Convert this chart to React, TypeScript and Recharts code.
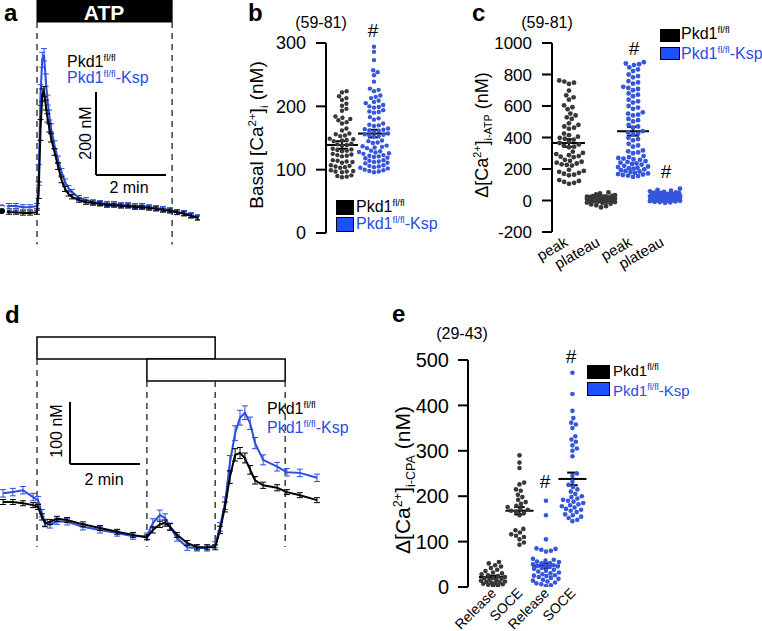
import React from 'react';
import {
  LineChart, Line, XAxis, YAxis, ReferenceArea, ReferenceLine, ErrorBar,
  ScatterChart, Scatter,
} from 'recharts';

const FONT = '"Liberation Sans", Arial, Helvetica, sans-serif';
const BLACK = '#000000';
const BLUE = '#2a4de0';
const DOT_BLACK = '#383838';
const DOT_BLUE = '#3657dc';
const LEG_BLUE = '#1f4fff';

// ---------- Panel a: ATP trace (time in min, [Ca2+]i in nM) ----------
const aTime = [-1.0, -0.8, -0.6, -0.4, -0.2, 0, 0.05, 0.1, 0.15, 0.2, 0.25, 0.3, 0.35, 0.4, 0.5, 0.6, 0.7, 0.8, 0.9, 1.0, 1.2, 1.4, 1.6, 1.8, 2.0, 2.2, 2.4, 2.6, 2.8, 3.0, 3.2, 3.4, 3.6, 3.8, 4.0, 4.2, 4.4, 4.6];
const aBlack = [145, 142, 142, 140, 140, 142, 195, 340, 424, 432, 400, 369, 345, 321, 287, 253, 220, 198, 186, 179, 171, 166, 164, 162, 159, 159, 157, 157, 154, 154, 152, 150, 147, 145, 142, 138, 133, 128];
const aBlackErr = [5, 5, 5, 5, 5, 5, 20, 25, 15, 12, 12, 10, 10, 10, 8, 8, 7, 6, 5, 5, 5, 5, 5, 5, 5, 5, 5, 5, 5, 5, 5, 5, 5, 5, 5, 5, 5, 5];
const aBlue = [154, 157, 157, 154, 154, 157, 232, 424, 509, 521, 460, 412, 376, 345, 304, 268, 239, 215, 200, 191, 176, 171, 166, 164, 162, 162, 159, 159, 157, 157, 154, 152, 150, 147, 142, 140, 135, 130];
const aBlueErr = [6, 6, 6, 6, 6, 6, 25, 25, 18, 15, 15, 12, 12, 10, 10, 9, 8, 7, 6, 6, 6, 6, 6, 6, 6, 6, 6, 6, 6, 6, 6, 6, 6, 6, 6, 6, 6, 6];
const ATP_ON = 0;
const ATP_OFF = 3.86;

// ---------- Panel d: CPA / Ca2+ re-addition trace ----------
const dTime = [-0.97, -0.69, -0.4, -0.11, 0.03, 0.14, 0.23, 0.37, 0.57, 0.86, 1.31, 1.8, 2.29, 2.74, 3.14, 3.31, 3.51, 3.66, 3.8, 4.0, 4.29, 4.57, 4.86, 5.09, 5.23, 5.37, 5.51, 5.66, 5.8, 5.94, 6.09, 6.23, 6.46, 6.86, 7.14, 7.51, 8.0];
const dBlack = [140, 140, 138, 135, 132, 116, 106, 108, 113, 111, 104, 98, 92, 87, 83, 95, 104, 106, 100, 87, 74, 67, 67, 67, 95, 132, 180, 216, 219, 211, 192, 175, 167, 163, 156, 151, 143];
const dBlackErr = [4, 4, 4, 4, 4, 5, 5, 4, 4, 4, 4, 4, 4, 4, 4, 5, 5, 5, 5, 4, 4, 4, 4, 4, 6, 8, 10, 10, 9, 8, 7, 6, 5, 5, 4, 4, 4];
const dBlue = [154, 156, 159, 148, 143, 122, 106, 103, 109, 108, 100, 95, 90, 85, 85, 106, 119, 114, 100, 82, 67, 66, 66, 71, 100, 138, 203, 251, 276, 284, 267, 235, 208, 197, 188, 187, 179];
const dBlueErr = [6, 6, 6, 6, 6, 6, 6, 5, 5, 5, 5, 5, 5, 5, 5, 7, 8, 7, 6, 5, 5, 5, 5, 5, 7, 10, 12, 12, 12, 11, 10, 9, 8, 7, 6, 6, 6];
const CPA_ON = 0;
const CPA_OFF = 5.09;
const CA_ON = 3.14;
const CA_OFF = 7.09;

// ---------- Panel b: basal [Ca2+]i ----------
const bBlack = [224, 222, 216, 213, 210, 204, 201, 196, 193, 184, 182, 180, 178, 175, 173, 165, 162, 157, 156, 154, 153, 149, 148, 147, 146, 145, 141, 140, 139, 138, 133, 132, 131, 130, 129, 125, 124, 123, 122, 121, 115, 114, 113, 112, 111, 107, 106, 105, 104, 103, 99, 98, 97, 97, 96, 91, 90, 89, 88];
const bBlue = [294, 286, 273, 257, 254, 249, 239, 228, 226, 224, 217, 215, 213, 209, 207, 205, 202, 200, 199, 198, 194, 192, 191, 190, 183, 181, 179, 173, 171, 170, 169, 165, 164, 163, 162, 161, 160, 157, 156, 155, 154, 153, 152, 146, 145, 143, 142, 138, 137, 136, 135, 134, 130, 129, 128, 127, 126, 125, 123, 122, 121, 120, 119, 118, 115, 114, 113, 112, 111, 110, 107, 106, 105, 104, 103, 102, 100, 99, 98, 97, 96];
const bMean = [139, 157];
const bSem = [6, 6];

// ---------- Panel c: ATP response ----------
const cCategories = ['peak', 'plateau', 'peak', 'plateau'];
const cBlackPeak = [762, 755, 748, 740, 698, 668, 655, 640, 604, 592, 580, 552, 540, 528, 518, 490, 480, 470, 462, 455, 425, 415, 405, 398, 392, 386, 372, 365, 356, 348, 342, 338, 310, 302, 295, 288, 282, 278, 275, 258, 252, 246, 240, 235, 230, 226, 222, 195, 188, 182, 176, 170, 164, 160, 130, 124, 118, 112, 106];
const cBlackPlateau = [52, 45, 38, 34, 30, 28, 26, 25, 24, 23, 22, 21, 20, 20, 19, 18, 17, 16, 16, 15, 14, 14, 13, 13, 12, 12, 11, 11, 10, 10, 9, 9, 8, 8, 7, 7, 6, 6, 5, 5, 4, 3, 2, 1, 0, 0, -1, -2, -4, -6, -8, -10, -13, -16, -20, -25, -30, -36, -44];
const cBluePeak = [878, 870, 865, 860, 845, 832, 822, 800, 790, 782, 758, 750, 742, 722, 715, 708, 700, 680, 672, 662, 640, 630, 622, 600, 590, 582, 560, 552, 545, 540, 518, 510, 502, 480, 470, 462, 440, 432, 425, 420, 398, 390, 382, 360, 350, 342, 318, 312, 305, 300, 282, 276, 270, 266, 262, 258, 250, 245, 240, 236, 232, 228, 220, 216, 212, 208, 205, 202, 198, 192, 188, 184, 180, 176, 172, 168, 165, 162, 158, 155, 150];
const cBluePlateau = [75, 68, 62, 58, 55, 52, 50, 48, 46, 44, 42, 40, 38, 37, 36, 35, 34, 33, 32, 31, 30, 29, 28, 27, 27, 26, 25, 25, 24, 24, 23, 23, 22, 22, 21, 21, 20, 20, 19, 19, 18, 18, 17, 17, 16, 16, 15, 15, 14, 14, 13, 13, 12, 12, 11, 11, 10, 10, 9, 9, 8, 8, 7, 7, 6, 6, 5, 5, 4, 3, 2, 1, 0, -1, -2, -4, -6, -8, -10, -12, -15];
const cMean = [365, 10, 440, 20];
const cSem = [24, 3, 28, 3];

// ---------- Panel e: CPA response ----------
const eCategories = ['Release', 'SOCE', 'Release', 'SOCE'];
const eBlackRelease = [55, 52, 48, 45, 42, 38, 35, 32, 30, 28, 26, 24, 22, 20, 19, 18, 16, 15, 14, 12, 11, 10, 9, 8, 7, 6, 5, 3, 2];
const eBlackSOCE = [290, 274, 262, 230, 226, 215, 212, 203, 198, 192, 187, 183, 179, 176, 172, 170, 168, 166, 163, 158, 128, 125, 120, 116, 113, 110, 105, 98, 93];
const eBlueRelease = [190, 158, 105, 85, 84, 82, 80, 78, 62, 60, 58, 56, 55, 53, 52, 50, 48, 47, 46, 45, 44, 42, 40, 38, 36, 34, 32, 30, 28, 26, 25, 24, 22, 20, 18, 16, 14, 12, 10, 8, 6, 4, 2];
const eBlueSOCE = [472, 425, 388, 372, 362, 358, 350, 332, 325, 320, 312, 305, 300, 288, 250, 245, 232, 225, 220, 215, 210, 205, 200, 198, 195, 192, 190, 188, 185, 182, 180, 178, 175, 172, 170, 168, 165, 160, 158, 155, 152, 148, 145];
const eMean = [22, 168, 47, 238];
const eSem = [3, 8, 5, 14];

// ---------- helpers ----------
// beeswarm layout (pixel offsets), limited to a maximum half-width
function swarm(values: number[], pxPerUnit: number, d: number, maxHalf: number): number[] {
  const idx = values.map((_, i) => i).sort((a, b) => values[a] - values[b]);
  const placed: { x: number; y: number }[] = [];
  const out = new Array(values.length).fill(0);
  for (const i of idx) {
    const y = values[i] * pxPerUnit;
    const near = placed.filter((p) => Math.abs(p.y - y) < d);
    const cands = [0];
    for (const p of near) {
      const dx = Math.sqrt(d * d - (p.y - y) * (p.y - y));
      cands.push(p.x + dx, p.x - dx);
    }
    const ok = cands.filter((c) => Math.abs(c) <= maxHalf).sort((a, b) => Math.abs(a) - Math.abs(b));
    let chosen: number | null = null;
    for (const c of ok) {
      if (near.every((p) => (p.x - c) * (p.x - c) + (p.y - y) * (p.y - y) >= d * d - 0.01)) {
        chosen = c;
        break;
      }
    }
    if (chosen === null) {
      let best = 0;
      let bestScore = -1;
      for (let k = 0; k <= 4 * maxHalf; k++) {
        const c = k % 2 === 0 ? k / 4 : -(k + 1) / 4;
        if (Math.abs(c) > maxHalf) continue;
        let m = Infinity;
        for (const p of near) m = Math.min(m, (p.x - c) * (p.x - c) + (p.y - y) * (p.y - y));
        if (m > bestScore + 0.5) {
          bestScore = m;
          best = c;
        }
      }
      chosen = best;
    }
    placed.push({ x: chosen, y });
    out[i] = chosen;
  }
  return out;
}

function group(values: number[], pos: number, pxPerUnit: number, d: number, maxHalf: number) {
  const dx = swarm(values, pxPerUnit, d, maxHalf);
  return values.map((v, i) => ({ x: pos, y: v, dx: dx[i] }));
}

const dotShape = (fill: string, r: number) => (props: any) => {
  const { cx, cy, payload } = props;
  if (cx == null || cy == null) return <g />;
  return <circle cx={cx + (payload?.dx || 0)} cy={cy} r={r} fill={fill} />;
};

function meanLines(means: number[], sems: number[], halfW: number, capW: number, key: string) {
  const out: any[] = [];
  means.forEach((m, i) => {
    const x = i + 1;
    const s = sems[i];
    const common = { stroke: BLACK, strokeWidth: 2, ifOverflow: 'visible' as const };
    out.push(<ReferenceLine key={`${key}m${i}`} segment={[{ x: x - halfW, y: m }, { x: x + halfW, y: m }]} {...common} />);
    out.push(<ReferenceLine key={`${key}v${i}`} segment={[{ x, y: m - s }, { x, y: m + s }]} {...common} />);
    out.push(<ReferenceLine key={`${key}t${i}`} segment={[{ x: x - capW, y: m + s }, { x: x + capW, y: m + s }]} {...common} />);
    out.push(<ReferenceLine key={`${key}b${i}`} segment={[{ x: x - capW, y: m - s }, { x: x + capW, y: m - s }]} {...common} />);
  });
  return out;
}

const catTick = (labels: string[], angle: number, dx: number, dy: number, size: number) => (props: any) => {
  const { x, y, payload } = props;
  const ax = x + dx;
  const ay = y + dy;
  return (
    <text x={ax} y={ay} transform={`rotate(${angle} ${ax} ${ay})`} textAnchor="end" fontSize={size} fontFamily={FONT} fill="#000">
      {labels[Math.round(payload.value) - 1]}
    </text>
  );
};

const Sup = ({ children }: any) => <span style={{ fontSize: '0.6em', position: 'relative', top: '-0.65em' }}>{children}</span>;
const Sub = ({ children }: any) => <span style={{ fontSize: '0.6em', position: 'relative', top: '0.4em' }}>{children}</span>;

function T({ x, y, size, children, anchor = 'start', color = '#000', bold = false }: any) {
  const tr = anchor === 'middle' ? 'translateX(-50%)' : anchor === 'end' ? 'translateX(-100%)' : undefined;
  return (
    <div style={{ position: 'absolute', left: x, top: y - 0.8465 * size, fontSize: size, lineHeight: 1, whiteSpace: 'nowrap', transform: tr, color, fontWeight: bold ? 'bold' : 'normal' }}>
      {children}
    </div>
  );
}

function VLabel({ cx, cy, size, children }: any) {
  return (
    <div style={{ position: 'absolute', left: cx, top: cy, fontSize: size, lineHeight: 1, whiteSpace: 'nowrap', transform: 'translate(-50%,-50%) rotate(-90deg)' }}>
      {children}
    </div>
  );
}

function Square({ x, y, w, h, fill }: any) {
  return <div style={{ position: 'absolute', left: x, top: y, width: w, height: h, background: fill, border: '1px solid #000', boxSizing: 'border-box' }} />;
}

const Pkd = () => <>Pkd1<Sup>fl/fl</Sup></>;
const PkdKsp = () => <>Pkd1<Sup>fl/fl</Sup>-Ksp</>;

const axisStyle = { stroke: '#000', strokeWidth: 2 };

function Box({ left, top, children }: any) {
  return <div style={{ position: 'absolute', left, top }}>{children}</div>;
}

// ---------- panels ----------
function PanelA() {
  const data = aTime.map((t, i) => ({ t, black: aBlack[i], blackErr: aBlackErr[i], blue: aBlue[i], blueErr: aBlueErr[i] }));
  const dash = { stroke: '#222', strokeWidth: 1.3, strokeDasharray: '6 5', ifOverflow: 'visible' as const };
  return (
    <Box left={0} top={0}>
      <LineChart width={200} height={245} data={data} margin={{ top: 0, right: 0, bottom: 0, left: 0 }}>
        <XAxis dataKey="t" type="number" domain={[-1.057, 4.657]} allowDataOverflow hide />
        <YAxis type="number" domain={[63, 653]} allowDataOverflow hide />
        <ReferenceArea x1={ATP_ON} x2={ATP_OFF} y1={600} y2={653} fill="#000" fillOpacity={1} stroke="#000" ifOverflow="visible" />
        <ReferenceLine segment={[{ x: ATP_ON, y: 600 }, { x: ATP_ON, y: 64 }]} {...dash} />
        <ReferenceLine segment={[{ x: ATP_OFF, y: 600 }, { x: ATP_OFF, y: 64 }]} {...dash} />
        <ReferenceLine segment={[{ x: 1.686, y: 431.6 }, { x: 1.686, y: 231.6 }]} stroke="#000" strokeWidth={2} ifOverflow="visible" />
        <ReferenceLine segment={[{ x: 1.686, y: 231.6 }, { x: 3.686, y: 231.6 }]} stroke="#000" strokeWidth={2} ifOverflow="visible" />
        <Line type="linear" dataKey="blue" stroke={BLUE} strokeWidth={2} dot={false} isAnimationActive={false}>
          <ErrorBar dataKey="blueErr" width={3} strokeWidth={1} stroke={BLUE} direction="y" />
        </Line>
        <Line type="linear" dataKey="black" stroke={BLACK} strokeWidth={2} dot={false} isAnimationActive={false}>
          <ErrorBar dataKey="blackErr" width={3} strokeWidth={1} stroke={BLACK} direction="y" />
        </Line>
      </LineChart>
    </Box>
  );
}

function PanelD() {
  const data = dTime.map((t, i) => ({ t, black: dBlack[i], blackErr: dBlackErr[i], blue: dBlue[i], blueErr: dBlueErr[i] }));
  const dash = { stroke: '#222', strokeWidth: 1.3, strokeDasharray: '6 5', ifOverflow: 'visible' as const };
  return (
    <Box left={0} top={330}>
      <LineChart width={330} height={230} data={data} margin={{ top: 0, right: 0, bottom: 0, left: 0 }}>
        <XAxis dataKey="t" type="number" domain={[-1.057, 8.371]} allowDataOverflow hide />
        <YAxis type="number" domain={[46.5, 417.4]} allowDataOverflow hide />
        <ReferenceArea x1={CPA_ON} x2={CPA_OFF} y1={370.6} y2={406} fill="#fff" fillOpacity={1} stroke="#000" strokeWidth={1.5} ifOverflow="visible" />
        <ReferenceArea x1={CA_ON} x2={CA_OFF} y1={335.2} y2={370.6} fill="#fff" fillOpacity={1} stroke="#000" strokeWidth={1.5} ifOverflow="visible" />
        <ReferenceLine segment={[{ x: CPA_ON, y: 370.6 }, { x: CPA_ON, y: 67.4 }]} {...dash} />
        <ReferenceLine segment={[{ x: CA_ON, y: 335.2 }, { x: CA_ON, y: 67.4 }]} {...dash} />
        <ReferenceLine segment={[{ x: CPA_OFF, y: 335.2 }, { x: CPA_OFF, y: 67.4 }]} {...dash} />
        <ReferenceLine segment={[{ x: CA_OFF, y: 335.2 }, { x: CA_OFF, y: 67.4 }]} {...dash} />
        <ReferenceLine segment={[{ x: 0.943, y: 301.3 }, { x: 0.943, y: 201.3 }]} stroke="#000" strokeWidth={2} ifOverflow="visible" />
        <ReferenceLine segment={[{ x: 0.943, y: 201.3 }, { x: 2.943, y: 201.3 }]} stroke="#000" strokeWidth={2} ifOverflow="visible" />
        <Line type="linear" dataKey="blue" stroke={BLUE} strokeWidth={2} dot={false} isAnimationActive={false}>
          <ErrorBar dataKey="blueErr" width={3} strokeWidth={1} stroke={BLUE} direction="y" />
        </Line>
        <Line type="linear" dataKey="black" stroke={BLACK} strokeWidth={2} dot={false} isAnimationActive={false}>
          <ErrorBar dataKey="blackErr" width={3} strokeWidth={1} stroke={BLACK} direction="y" />
        </Line>
      </LineChart>
    </Box>
  );
}

function PanelB() {
  const pxY = 190 / 300;
  const r = 2.2;
  const black = group(bBlack, 1, pxY, 2 * r + 0.4, 14);
  const blue = group(bBlue, 2, pxY, 2 * r + 0.4, 15);
  return (
    <Box left={266} top={30}>
      <ScatterChart width={134} height={218} margin={{ top: 13, right: 0, bottom: 15, left: 0 }}>
        <XAxis type="number" dataKey="x" domain={[0.5, 2.8125]} allowDataOverflow hide />
        <YAxis type="number" dataKey="y" width={60} domain={[0, 300]} ticks={[0, 100, 200, 300]} interval={0} allowDataOverflow
          axisLine={axisStyle} tickLine={axisStyle} tickSize={10} tickMargin={10}
          tick={{ fontSize: 18, fill: '#000', fontFamily: FONT }} />
        <Scatter data={black} shape={dotShape(DOT_BLACK, r)} isAnimationActive={false} />
        <Scatter data={blue} shape={dotShape(DOT_BLUE, r)} isAnimationActive={false} />
        {meanLines(bMean, bSem, 0.5, 0.19, 'b')}
      </ScatterChart>
    </Box>
  );
}

function PanelC() {
  const pxY = 189 / 1200;
  const r = 2.4;
  const d = 2 * r + 0.4;
  const g1 = group(cBlackPeak, 1, pxY, d, 15);
  const g2 = group(cBlackPlateau, 2, pxY, d, 14);
  const g3 = group(cBluePeak, 3, pxY, d, 15);
  const g4 = group(cBluePlateau, 4, pxY, d, 15);
  return (
    <Box left={492} top={30}>
      <ScatterChart width={198} height={252} margin={{ top: 13, right: 0, bottom: 0, left: 0 }}>
        <XAxis type="number" dataKey="x" domain={[0.47, 4.78]} ticks={[1, 2, 3, 4]} interval={0} allowDataOverflow
          axisLine={false} tickLine={false} tickSize={0} tickMargin={0} height={50}
          tick={catTick(cCategories, -30, 0, 13, 15)} />
        <YAxis type="number" dataKey="y" width={60} domain={[-200, 1000]} ticks={[-200, 0, 200, 400, 600, 800, 1000]} interval={0} allowDataOverflow
          axisLine={axisStyle} tickLine={axisStyle} tickSize={10} tickMargin={10}
          tick={{ fontSize: 17, fill: '#000', fontFamily: FONT }} />
        <Scatter data={g1} shape={dotShape(DOT_BLACK, r)} isAnimationActive={false} />
        <Scatter data={g2} shape={dotShape(DOT_BLACK, r)} isAnimationActive={false} />
        <Scatter data={g3} shape={dotShape(DOT_BLUE, r)} isAnimationActive={false} />
        <Scatter data={g4} shape={dotShape(DOT_BLUE, r)} isAnimationActive={false} />
        {meanLines(cMean, cSem, 0.5, 0.19, 'c')}
      </ScatterChart>
    </Box>
  );
}

function PanelE() {
  const pxY = 227 / 500;
  const r = 2.3;
  const d = 2 * r + 0.4;
  const g1 = group(eBlackRelease, 1, pxY, d, 12);
  const g2 = group(eBlackSOCE, 2, pxY, d, 13);
  const g3 = group(eBlueRelease, 3, pxY, d, 13);
  const g4 = group(eBlueSOCE, 4, pxY, d, 13);
  return (
    <Box left={408} top={347}>
      <ScatterChart width={192} height={284} margin={{ top: 13, right: 0, bottom: 0, left: 0 }}>
        <XAxis type="number" dataKey="x" domain={[0.057, 5.04]} ticks={[1, 2, 3, 4]} interval={0} allowDataOverflow
          axisLine={false} tickLine={false} tickSize={0} tickMargin={0} height={44}
          tick={catTick(eCategories, -45, 4, 7, 14)} />
        <YAxis type="number" dataKey="y" width={60} domain={[0, 500]} ticks={[0, 100, 200, 300, 400, 500]} interval={0} allowDataOverflow
          axisLine={axisStyle} tickLine={axisStyle} tickSize={10} tickMargin={9}
          tick={{ fontSize: 20, fill: '#000', fontFamily: FONT }} />
        <Scatter data={g1} shape={dotShape(DOT_BLACK, r)} isAnimationActive={false} />
        <Scatter data={g2} shape={dotShape(DOT_BLACK, r)} isAnimationActive={false} />
        <Scatter data={g3} shape={dotShape(DOT_BLUE, r)} isAnimationActive={false} />
        <Scatter data={g4} shape={dotShape(DOT_BLUE, r)} isAnimationActive={false} />
        {meanLines(eMean, eSem, 0.53, 0.2, 'e')}
      </ScatterChart>
    </Box>
  );
}

export default function App() {
  return (
    <div style={{ position: 'absolute', left: 0, top: 0, width: 762, height: 631, background: '#fff', fontFamily: FONT, color: '#000', overflow: 'hidden' }}>
      <PanelA />
      <PanelB />
      <PanelC />
      <PanelD />
      <PanelE />

      {/* panel letters */}
      <T x={4} y={21} size={24} bold>a</T>
      <T x={248} y={21} size={24} bold>b</T>
      <T x={472} y={21} size={24} bold>c</T>
      <T x={5} y={323} size={24} bold>d</T>
      <T x={392} y={322} size={24} bold>e</T>

      {/* panel a annotations */}
      <T x={104} y={20} size={21} anchor="middle" color="#fff" bold>ATP</T>
      <T x={67} y={68} size={16}><Pkd /></T>
      <T x={67} y={84} size={16} color={BLUE}><PkdKsp /></T>
      <VLabel cx={86} cy={133} size={16}>200 nM</VLabel>
      <T x={129} y={194} size={16} anchor="middle">2 min</T>

      {/* panel b annotations */}
      <T x={321} y={29} size={16} anchor="middle">(59-81)</T>
      <T x={373} y={37} size={19} anchor="middle">#</T>
      <VLabel cx={256} cy={135} size={19}>Basal [Ca<Sup>2+</Sup>]<Sub>i</Sub> (nM)</VLabel>
      <Square x={336} y={200} w={18} h={15} fill="#000" />
      <Square x={336} y={217} w={18} h={15} fill={LEG_BLUE} />
      <T x={356} y={213} size={16}><Pkd /></T>
      <T x={356} y={230} size={16} color={BLUE}><PkdKsp /></T>

      {/* panel c annotations */}
      <T x={547} y={29} size={16} anchor="middle">(59-81)</T>
      <T x={634} y={55} size={19} anchor="middle">#</T>
      <T x={666} y={178} size={19} anchor="middle">#</T>
      <VLabel cx={482} cy={135} size={18}>Δ[Ca<Sup>2+</Sup>]<Sub>i-ATP</Sub> (nM)</VLabel>
      <Square x={660} y={29} w={20} h={13} fill="#000" />
      <Square x={660} y={47} w={20} h={13} fill={LEG_BLUE} />
      <T x={681} y={40} size={16}><Pkd /></T>
      <T x={681} y={60} size={16} color={BLUE}><PkdKsp /></T>

      {/* panel d annotations */}
      <VLabel cx={57} cy={431} size={16}>100 nM</VLabel>
      <T x={104} y={486} size={16} anchor="middle">2 min</T>
      <T x={267} y={415} size={16}><Pkd /></T>
      <T x={267} y={434} size={16} color={BLUE}><PkdKsp /></T>

      {/* panel e annotations */}
      <T x={462} y={340} size={16} anchor="middle">(29-43)</T>
      <T x={571} y={363} size={19} anchor="middle">#</T>
      <T x={545} y={488} size={19} anchor="middle">#</T>
      <VLabel cx={402} cy={480} size={21}>Δ[Ca<Sup>2+</Sup>]<Sub>i-CPA</Sub> (nM)</VLabel>
      <Square x={587} y={365} w={23} h={14} fill="#000" />
      <Square x={587} y={382} w={23} h={14} fill={LEG_BLUE} />
      <T x={613} y={376} size={15}><Pkd /></T>
      <T x={613} y={396} size={15} color={BLUE}><PkdKsp /></T>
    </div>
  );
}
